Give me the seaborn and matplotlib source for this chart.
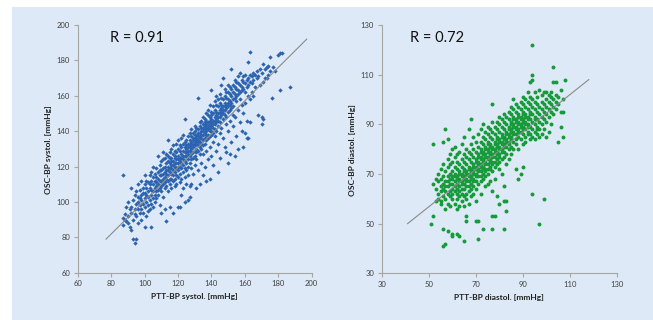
import numpy as np
import pandas as pd
import matplotlib
matplotlib.use("Agg")
import matplotlib.pyplot as plt
import seaborn as sns
from matplotlib.patches import Rectangle

plt.rcParams['font.family'] = ['Lato', 'DejaVu Sans']

# ---------------- data: systolic panel ----------------
sys_ptt = list(range(87, 176)) + [176, 177, 178, 180, 181, 182, 187]
sys_osc = [
    [115, 91, 87], [90, 93], [89, 97], [92, 88, 100], [96, 86],              # 87-91
    [97, 84, 108, 94], [79, 101, 90], [77, 96, 104, 93], [79, 92, 99, 106],  # 92-95
    [96, 103, 88, 100, 110], [98, 107, 94, 102], [101, 96, 112, 90, 104],    # 96-98
    [105, 99, 108, 94], [86, 102, 110, 97, 115, 105],                        # 99-100
    [104, 92, 108, 100, 112], [106, 98, 111, 95, 103],                       # 101-102
    [108, 101, 115, 96, 110], [104, 112, 99, 107, 117, 86],                  # 103-104
    [110, 102, 106, 114, 97, 120], [108, 112, 104, 116, 100],                # 105-106
    [111, 106, 119, 102, 114, 109], [113, 126, 107, 117, 104, 110],          # 107-108
    [115, 108, 121, 112, 98, 118], [112, 118, 106, 123, 109, 94, 115],       # 109-110
    [116, 110, 124, 113, 119, 103, 128], [114, 120, 108, 117, 125, 111, 96], # 111-112
    [118, 113, 122, 109, 127, 116, 89],                                      # 113
    [120, 115, 126, 112, 118, 123, 135, 106],                                # 114
    [117, 122, 113, 128, 119, 110, 125, 97],                                 # 115
    [121, 116, 125, 119, 130, 113, 108, 123],                                # 116
    [123, 118, 127, 115, 121, 132, 94, 112],                                 # 117
    [120, 125, 117, 129, 122, 113, 126, 109],                                # 118
    [124, 119, 128, 115, 122, 133, 110],                                     # 119
    [122, 126, 118, 130, 124, 114, 135, 97, 120],                            # 120
    [125, 120, 129, 116, 123, 132, 97, 111],                                 # 121
    [127, 122, 131, 119, 125, 113, 136, 104],                                # 122
    [124, 129, 121, 133, 126, 117, 138, 108],                                # 123
    [128, 123, 131, 126, 147, 119, 134, 114, 100],                           # 124
    [126, 130, 122, 135, 128, 118, 132, 110],                                # 125
    [129, 124, 133, 127, 137, 120, 131, 101, 115],                           # 126
    [131, 126, 135, 129, 122, 139, 133, 103, 109],                           # 127
    [130, 134, 127, 137, 132, 124, 141, 110, 119],                           # 128
    [133, 128, 136, 131, 139, 125, 135, 116],                                # 129
    [132, 136, 129, 140, 134, 126, 143, 121, 138],                           # 130
    [135, 130, 138, 133, 142, 128, 136, 108, 124],                           # 131
    [137, 132, 141, 135, 159, 129, 139, 134, 118],                           # 132
    [134, 139, 131, 143, 137, 127, 145, 110, 136],                           # 133
    [138, 133, 142, 136, 146, 130, 140, 122],                                # 134
    [140, 135, 144, 138, 132, 148, 142, 115, 127],                           # 135
    [139, 143, 136, 147, 141, 133, 145, 120],                                # 136
    [142, 138, 146, 140, 150, 135, 144, 129, 112],                           # 137
    [141, 145, 138, 149, 143, 152, 136, 124],                                # 138
    [144, 140, 148, 142, 155, 137, 146, 113, 131],                           # 139
    [143, 147, 140, 151, 145, 163, 138, 149, 126],                           # 140
    [146, 142, 150, 144, 154, 139, 134, 121],                                # 141
    [148, 144, 152, 146, 157, 141, 137],                                     # 142
    [147, 151, 145, 155, 149, 160, 129, 140],                                # 143
    [150, 146, 154, 148, 158, 143, 117, 133],                                # 144
    [152, 148, 156, 150, 161, 145, 139, 125],                                # 145
    [151, 155, 149, 159, 153, 166, 142],                                     # 146
    [154, 150, 158, 152, 170, 147, 136],                                     # 147
    [156, 152, 160, 154, 164, 149, 131],                                     # 148
    [155, 159, 153, 162, 148, 144, 128],                                     # 149
    [158, 154, 162, 156, 166, 151, 122, 140],                                # 150
    [157, 161, 155, 165, 152, 146, 127],                                     # 151
    [160, 156, 164, 175, 153, 134],                                          # 152
    [162, 158, 166, 154, 143, 149],                                          # 153
    [161, 165, 159, 169, 126, 148],                                          # 154
    [164, 160, 168, 157, 137],                                               # 155
    [163, 167, 161, 171, 130, 152],                                          # 156
    [166, 162, 173, 158, 145],                                               # 157
    [165, 169, 163, 155, 140],                                               # 158
    [168, 164, 171, 131, 150],                                               # 159
    [167, 162, 172, 139, 156],                                               # 160
    [169, 165, 146, 136],                                                    # 161
    [170, 166, 179, 160, 136],                                               # 162
    [185, 168, 172, 145, 158],                                               # 163
    [171, 167, 162], [173, 169, 160], [172, 165], [174, 170],                # 164-167
    [171, 149], [175, 166], [173, 148, 144], [178, 168, 147],                # 168-171
    [175, 170], [176, 170], [177, 172], [182, 174],                          # 172-175
    [159], [176], [174], [183], [184, 163], [184], [165],                    # 176-187
]
sys_line_x = [77, 197]
sys_line_y = [79, 192]

# ---------------- data: diastolic panel ----------------
dia_ptt = list(range(51, 109))
dia_osc = [
    [50],                                                        # 51
    [82, 53, 66],                                                # 52
    [59, 64, 68],                                                # 53
    [62, 67, 60, 70],                                            # 54
    [65, 58, 68, 63, 72, 59],                                    # 55
    [41, 48, 83, 66, 61, 69, 64, 74],                            # 56
    [42, 88, 63, 67, 60, 71, 65, 56],                            # 57
    [47, 84, 65, 69, 62, 73, 67, 58, 76],                        # 58
    [66, 70, 63, 74, 61, 68, 78, 57],                            # 59
    [45, 46, 68, 64, 71, 66, 75, 62, 69, 60, 80],                # 60
    [67, 70, 65, 73, 63, 77, 69, 58, 81],                        # 61
    [46, 66, 69, 72, 64, 75, 62, 68, 78, 60, 56],                # 62
    [45, 68, 65, 71, 63, 74, 67, 61, 79, 70, 57],                # 63
    [67, 70, 64, 73, 66, 62, 76, 69, 59, 82],                    # 64
    [43, 69, 66, 72, 64, 75, 68, 61, 78, 71, 85, 57],            # 65
    [53, 51, 68, 71, 65, 74, 67, 62, 77, 70, 60, 80],            # 66
    [70, 67, 73, 65, 76, 69, 63, 79, 72, 88, 58],                # 67
    [92, 69, 72, 66, 75, 68, 64, 78, 71, 82, 61],                # 68
    [71, 68, 74, 67, 77, 70, 65, 80, 73, 85, 62],                # 69
    [51, 70, 73, 67, 76, 69, 79, 72, 64, 83, 75, 59],            # 70
    [44, 51, 72, 75, 69, 78, 71, 81, 74, 66, 86, 77],            # 71
    [74, 71, 77, 69, 80, 73, 83, 76, 67, 88, 79, 62],            # 72
    [48, 73, 76, 70, 79, 72, 82, 75, 85, 68, 90, 78],            # 73
    [75, 72, 78, 71, 81, 74, 84, 77, 69, 87, 80, 65],            # 74
    [77, 74, 80, 72, 83, 76, 86, 79, 70, 89, 82, 66],            # 75
    [76, 79, 73, 82, 75, 85, 78, 88, 72, 81, 67],                # 76
    [48, 53, 98, 78, 75, 81, 74, 84, 77, 87, 80, 91, 71, 63],    # 77
    [53, 80, 77, 83, 75, 86, 79, 89, 73, 82, 68],                # 78
    [79, 76, 82, 85, 78, 88, 81, 91, 74, 61, 84],                # 79
    [81, 78, 84, 77, 87, 80, 90, 83, 75, 93, 72, 58],            # 80
    [80, 83, 79, 86, 82, 89, 76, 85, 92, 70],                    # 81
    [48, 59, 82, 79, 85, 81, 88, 84, 91, 77, 94, 65],            # 82
    [55, 59, 84, 81, 87, 83, 90, 86, 78, 93, 74],                # 83
    [83, 86, 82, 89, 85, 92, 80, 88, 95, 76],                    # 84
    [85, 88, 84, 91, 87, 94, 81, 90, 97, 78],                    # 85
    [100, 87, 90, 86, 93, 89, 83, 96, 92, 80],                   # 86
    [86, 89, 92, 88, 95, 84, 91, 98, 82, 72],                    # 87
    [88, 91, 87, 94, 90, 85, 97, 93, 68, 80],                    # 88
    [90, 87, 93, 89, 96, 84, 92, 99, 70],                        # 89
    [89, 92, 88, 95, 91, 86, 98, 94, 101, 73, 82],               # 90
    [91, 88, 94, 90, 97, 85, 93, 100, 83],                       # 91
    [90, 93, 89, 96, 87, 99, 92, 86, 103],                       # 92
    [92, 89, 95, 107, 98, 86, 94, 101, 84],                      # 93
    [122, 110, 108, 62, 91, 88, 94, 97, 85, 100],                # 94
    [90, 93, 87, 96, 103, 84, 99, 92],                           # 95
    [92, 95, 89, 98, 86, 101, 88],                               # 96
    [50, 91, 94, 97, 88, 104, 85],                               # 97
    [93, 96, 90, 99, 86, 102],                                   # 98
    [60, 95, 92, 98, 103, 88],                                   # 99
    [94, 97, 91, 100, 85, 103],                                  # 100
    [96, 93, 99, 102, 87],                                       # 101
    [95, 98, 103, 90, 101],                                      # 102
    [113, 107, 97, 100, 94],                                     # 103
    [107, 99, 102, 96],                                          # 104
    [101, 83, 98],                                               # 105
    [104, 89, 95],                                               # 106
    [95, 85, 100],                                               # 107
    [108],                                                       # 108
]
dia_line_x = [41, 118]
dia_line_y = [50, 108]

r_labels = ["R = 0.91", "R = 0.72"]


def expand(xs, groups):
    px, py = [], []
    for x, g in zip(xs, groups):
        for y in g:
            px.append(x)
            py.append(y)
    return pd.DataFrame({"x": px, "y": py})


df_sys = expand(sys_ptt, sys_osc)
df_dia = expand(dia_ptt, dia_osc)

W, H = 653, 320
fig = plt.figure(figsize=(W / 100, H / 100), dpi=100)
fig.patch.set_facecolor("white")
fig.add_artist(Rectangle((12 / W, 0), 1 - 12 / W, 1 - 7 / H,
                         transform=fig.transFigure, facecolor="#dde9f6",
                         edgecolor="none", zorder=-10))

ax1 = fig.add_axes([77.7 / W, 1 - 272.7 / H, 234 / W, 247.7 / H])
ax2 = fig.add_axes([381.7 / W, 1 - 273.3 / H, 235.3 / W, 248.3 / H])

sns.scatterplot(data=df_sys, x="x", y="y", ax=ax1, marker="D", s=5,
                color="#2c63b0", linewidth=0, legend=False, zorder=2)
sns.scatterplot(data=df_dia, x="x", y="y", ax=ax2, marker="o", s=8,
                color="#169a3a", linewidth=0, legend=False, zorder=2)

ax1.plot(sys_line_x, sys_line_y, color="#8a8a8a", lw=0.8, zorder=3)
ax2.plot(dia_line_x, dia_line_y, color="#8a8a8a", lw=0.8, zorder=3)


def style(ax, lo, hi, xlabel, ylabel, rtext, rx):
    ax.set_facecolor("none")
    ax.set_xlim(lo, hi)
    ax.set_ylim(lo, hi)
    ticks = np.arange(lo, hi + 1, 20)
    ax.set_xticks(ticks)
    ax.set_yticks(ticks)
    for s in ["top", "right"]:
        ax.spines[s].set_visible(False)
    for s in ["left", "bottom"]:
        ax.spines[s].set_color("#a6a6a6")
        ax.spines[s].set_linewidth(0.8)
    ax.tick_params(direction="out", length=3, width=0.8, color="#a6a6a6",
                   labelcolor="#404040", labelsize=5.5, pad=2.5)
    ax.set_xlabel(xlabel, fontsize=6, fontweight="bold", color="#202020")
    ax.set_ylabel(ylabel, fontsize=6, fontweight="bold", color="#202020")
    ax.xaxis.set_label_coords(0.5, -0.082)
    ax.yaxis.set_label_coords(-0.11, 0.495)
    ax.text(rx, 0.9475, rtext, transform=ax.transAxes, fontsize=10.5,
            ha="left", va="center", color="#111111")


style(ax1, 60, 200, "PTT-BP systol. [mmHg]", "OSC-BP systol. [mmHg]", r_labels[0], 0.138)
style(ax2, 30, 130, "PTT-BP diastol. [mmHg]", "OSC-BP diastol. [mmHg]", r_labels[1], 0.120)

fig.savefig("out.png", dpi=100, facecolor=fig.get_facecolor())
